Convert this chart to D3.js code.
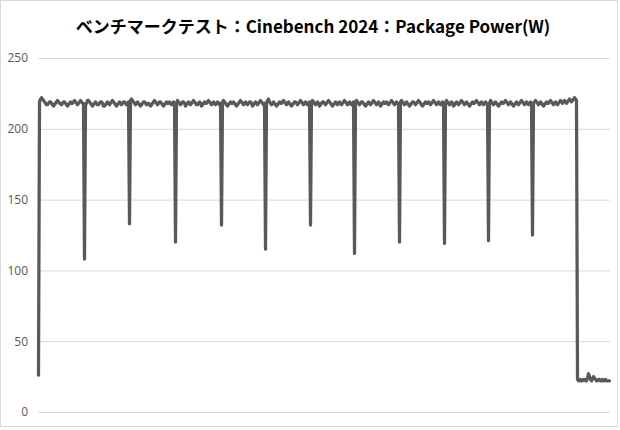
<!DOCTYPE html>
<html>
<head>
<meta charset="utf-8">
<script src="https://cdn.jsdelivr.net/npm/d3@7"></script>
<style>
  body { margin:0; background:#fff; }
  svg { display:block; }
</style>
</head>
<body>
<svg width="620" height="430"></svg>
<script>
const title = 'ベンチマークテスト：Cinebench 2024：Package Power(W)';
const yTicks = [0, 50, 100, 150, 200, 250];

// package power per second (W); each row is one pass, ending on the dip between passes
const power = [26,
  219,221,222,221,220,219,218,217,217,218,219,219,218,217,216,217,218,219,220,219,218,218,217,218,219,219,218,217,216,217,218,219,218,218,219,220,219,218,217,218,219,220,219,218,218, 108,
  217,218,220,220,219,218,217,216,217,218,219,218,217,217,218,219,219,218,216,216,217,218,219,218,217,218,219,220,219,218,217,216,217,218,219,218,217,218,219,219,218,217,218,219, 133,
  220,221,220,219,218,217,218,219,218,217,216,217,218,219,219,218,217,218,218,217,216,217,218,219,220,219,218,217,218,219,219,218,217,216,217,218,219,218,218,219,218,217,218,219,218, 120,
  218,220,219,218,217,218,219,219,218,216,217,218,219,218,217,218,219,220,219,218,217,217,218,219,218,216,217,218,219,218,218,219,220,219,218,217,218,219,218,217,218,219,218,217,218, 132,
  219,220,219,218,217,216,217,218,219,218,218,219,218,217,216,217,218,219,220,219,218,217,218,219,218,217,218,219,219,218,216,217,218,219,218,217,218,219,220,219,218,217,218, 115,
  218,220,221,219,218,217,218,219,218,217,216,217,218,219,218,218,219,220,219,218,217,218,219,218,217,216,217,218,219,219,218,217,218,219,220,219,218,217,218,219,218,217,218,219, 132,
  219,220,219,218,217,218,219,218,216,217,218,219,219,218,217,218,219,220,219,218,217,216,217,218,219,218,217,218,219,218,217,218,219,220,219,218,217,218,219,218,217,218,219, 112,
  218,220,219,218,217,218,219,219,218,217,216,217,218,219,218,217,218,219,220,219,218,217,218,219,218,216,217,218,219,218,218,219,218,217,218,219,220,219,218,217,218,219,218,217, 120,
  219,220,219,218,217,218,219,218,217,216,217,218,219,219,218,217,218,219,220,219,218,217,216,217,218,219,218,218,219,218,217,218,219,220,219,218,217,218,219,218,217,218,219,218, 119,
  218,220,219,218,217,218,219,218,216,217,218,219,218,217,218,219,220,219,218,217,218,219,218,217,216,217,218,219,218,218,219,220,219,218,217,218,219,218,217,218,219,218,217, 121,
  218,220,219,218,217,218,219,218,217,216,217,218,219,218,218,219,220,219,218,217,218,219,218,217,216,217,218,219,218,217,218,219,220,219,218,217,218,219,218,217,218,219,218, 125,
  218,219,220,219,218,217,218,219,218,217,216,217,218,219,218,218,219,220,219,218,217,218,219,218,217,218,219,220,219,218,219,220,219,218,219,220,221,220,219,220,221,222,221,220,
  23,22,22,23,22,22,23,23,22,22,24,27,25,23,22,23,25,24,23,22,22,23,23,22,22,23,22,22,23,22,22,22,22];

const W = 620, H = 430,
      mLeft = 38, mRight = 610, mTop = 58, mBottom = 412;

let svg = d3.select('svg');

// chart frame
svg.append('rect')
  .attr('x', 0.5).attr('y', 0.5).attr('width', W-3).attr('height', H-4)
  .attr('fill', '#fff').attr('stroke', '#d9d9d9');

svg.append('text')
  .attr('x', 313).attr('y', 33).attr('text-anchor', 'middle')
  .attr('font-family', '"Noto Sans CJK JP", sans-serif')
  .attr('font-weight', 'bold').attr('font-size', 17).attr('fill', '#000')
  .text(title);

let x = d3.scalePoint().domain(d3.range(power.length)).range([mLeft, mRight]).padding(0.5);
let y = d3.scaleLinear().domain([0, 250]).range([mBottom, mTop]);

// gridlines + labels
let yAxis = d3.axisLeft(y).tickValues(yTicks).tickSize(-(mRight-mLeft)).tickPadding(10);
let g = svg.append('g').attr('transform', `translate(${mLeft},0)`).call(yAxis);
g.select('.domain').remove();
g.selectAll('.tick line').attr('stroke', '#d9d9d9');
g.selectAll('.tick text')
  .attr('fill', '#595959').attr('font-size', 12)
  .attr('font-family', '"Open Sans", sans-serif');

let line = d3.line().x((d,i)=>x(i)).y(d=>y(d));
svg.append('path').datum(power)
  .attr('d', line).attr('fill', 'none')
  .attr('stroke', '#595959').attr('stroke-width', 3.25)
  .attr('stroke-linejoin', 'round').attr('stroke-linecap', 'round');
</script>
</body>
</html>
